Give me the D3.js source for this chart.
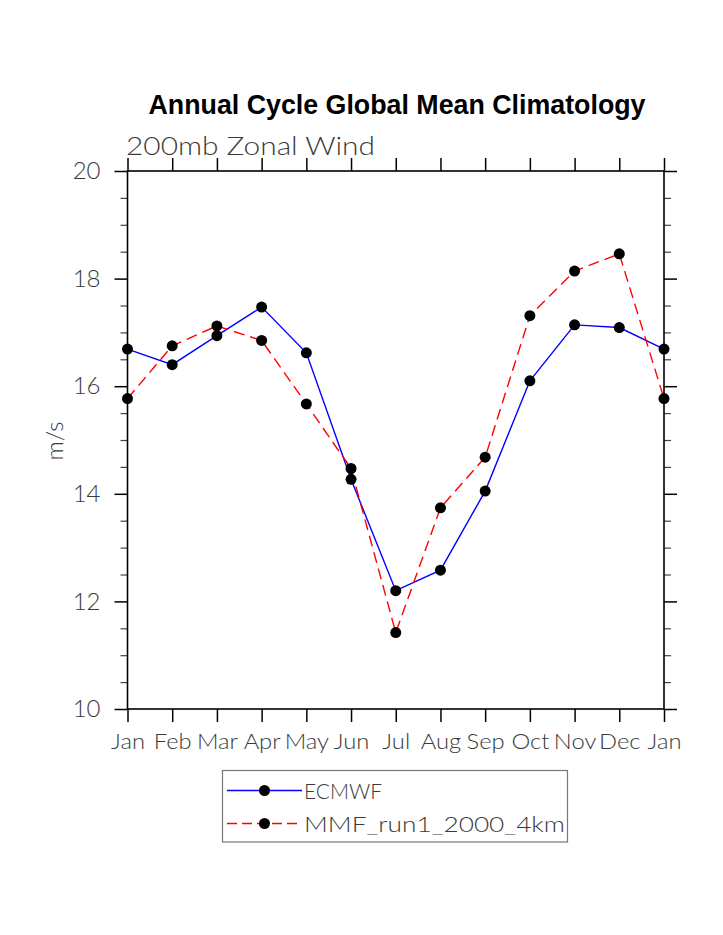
<!DOCTYPE html>
<html>
<head>
<meta charset="utf-8">
<script src="https://cdn.jsdelivr.net/npm/d3@7"></script>
<style>
  html, body { margin: 0; padding: 0; background: #fff; }
  svg { display: block; }
</style>
</head>
<body>
<svg id="chart" width="723" height="935"></svg>
<script>
// ---- data ----
const months = ["Jan","Feb","Mar","Apr","May","Jun","Jul","Aug","Sep","Oct","Nov","Dec","Jan"];
const ecmwf = [16.69, 16.40, 16.94, 17.47, 16.62, 14.27, 12.20, 12.58, 14.05, 16.10, 17.14, 17.09, 16.69];
const mmf   = [15.77, 16.75, 17.12, 16.85, 15.67, 14.47, 11.42, 13.74, 14.68, 17.31, 18.14, 18.46, 15.77];
const yMajorTicks = [10, 12, 14, 16, 18, 20];
const yMinorTicks = [10.5, 11, 11.5, 12.5, 13, 13.5, 14.5, 15, 15.5, 16.5, 17, 17.5, 18.5, 19, 19.5];
const seriesNames = ["ECMWF", "MMF_run1_2000_4km"];
const titleText = "Annual Cycle Global Mean Climatology";
const subtitleText = "200mb Zonal Wind";
const yAxisLabel = "m/s";

// ---- layout ----
const svg = d3.select("#chart");
const L = 127.5, R = 664, T = 171, B = 709;
const x = d3.scaleLinear().domain([0, 12]).range([L, R]);
const y = d3.scaleLinear().domain([10, 20]).range([B, T]);
const textFont = "Lato, 'Liberation Sans', Arial, sans-serif";
const textWeight = 300;
const textFill = "#3a3a3a";

// title
svg.append("text")
  .attr("x", 397).attr("y", 114)
  .attr("text-anchor", "middle")
  .attr("font-family", "'Liberation Sans', Arial, sans-serif")
  .attr("font-weight", "bold")
  .attr("font-size", 27)
  .attr("textLength", 497).attr("lengthAdjust", "spacingAndGlyphs")
  .attr("fill", "#000")
  .text(titleText);

// subtitle
svg.append("text")
  .attr("x", 126).attr("y", 155)
  .attr("font-family", textFont)
  .attr("font-weight", textWeight)
  .attr("font-size", 25)
  .attr("textLength", 249).attr("lengthAdjust", "spacingAndGlyphs")
  .attr("fill", textFill)
  .text(subtitleText);

// axes (d3 axes with outward ticks)
const idx = d3.range(months.length);
const xAxisB = d3.axisBottom(x).tickValues(idx).tickSize(13).tickFormat(i => months[i]).tickPadding(11);
const xAxisT = d3.axisTop(x).tickValues(idx).tickSize(13).tickFormat("");
const yAxisL = d3.axisLeft(y).tickValues(yMajorTicks).tickSize(13).tickFormat(d3.format("d")).tickPadding(14);
const yAxisR = d3.axisRight(y).tickValues(yMajorTicks).tickSize(13).tickFormat("");
const yMinL = d3.axisLeft(y).tickValues(yMinorTicks).tickSize(7).tickFormat("");
const yMinR = d3.axisRight(y).tickValues(yMinorTicks).tickSize(7).tickFormat("");

function styleAxis(g) {
  g.select(".domain").remove();
  g.selectAll(".tick line").attr("stroke", "#000").attr("stroke-width", 1.5);
  g.selectAll(".tick text")
    .attr("font-family", textFont)
    .attr("font-weight", textWeight)
    .attr("fill", textFill);
}

svg.append("g").attr("transform", `translate(0,${B})`).call(xAxisB).call(styleAxis)
  .call(g => g.selectAll(".tick text").attr("font-size", 22)
    .each(function () { const w = this.getComputedTextLength(); d3.select(this).attr("textLength", w * 1.08).attr("lengthAdjust", "spacingAndGlyphs"); }));
svg.append("g").attr("transform", `translate(0,${T})`).call(xAxisT).call(styleAxis);
svg.append("g").attr("transform", `translate(${L},0)`).call(yAxisL).call(styleAxis)
  .call(g => g.selectAll(".tick text").attr("font-size", 24)
    .each(function () { const w = this.getComputedTextLength(); d3.select(this).attr("textLength", w * 1.0).attr("lengthAdjust", "spacingAndGlyphs"); }));
svg.append("g").attr("transform", `translate(${R},0)`).call(yAxisR).call(styleAxis);
svg.append("g").attr("transform", `translate(${L},0)`).call(yMinL).call(styleAxis)
  .call(g => g.selectAll(".tick line").attr("stroke", "#444").attr("stroke-width", 1.2));
svg.append("g").attr("transform", `translate(${R},0)`).call(yMinR).call(styleAxis)
  .call(g => g.selectAll(".tick line").attr("stroke", "#444").attr("stroke-width", 1.2));

// frame
svg.append("rect")
  .attr("x", L).attr("y", T).attr("width", R - L).attr("height", B - T)
  .attr("fill", "none").attr("stroke", "#000").attr("stroke-width", 1.6);

// y label
svg.append("text")
  .attr("transform", `translate(63,441) rotate(-90)`)
  .attr("text-anchor", "middle")
  .attr("font-family", textFont)
  .attr("font-weight", textWeight)
  .attr("font-size", 24)
  .attr("fill", textFill)
  .text(yAxisLabel);

// series
const line = d3.line().x((d, i) => x(i)).y(d => y(d));
const series = [
  { name: seriesNames[0], values: ecmwf, color: "#0000ff", dash: null },
  { name: seriesNames[1], values: mmf, color: "#ff0000", dash: "11,6" }
];
series.forEach(s => {
  svg.append("path")
    .datum(s.values)
    .attr("d", line)
    .attr("fill", "none")
    .attr("stroke", s.color)
    .attr("stroke-width", 1.4)
    .attr("stroke-dasharray", s.dash);
});
series.forEach(s => {
  svg.append("g").selectAll("circle")
    .data(s.values)
    .join("circle")
    .attr("cx", (d, i) => x(i))
    .attr("cy", d => y(d))
    .attr("r", 5.5)
    .attr("fill", "#000");
});

// legend
const lg = svg.append("g");
lg.append("rect")
  .attr("x", 222.5).attr("y", 770.5).attr("width", 345).attr("height", 71.5)
  .attr("fill", "none").attr("stroke", "#777").attr("stroke-width", 1.2);
const legRows = [790.5, 823.5];
const legTextLen = [78, 261];
series.forEach((s, i) => {
  const yy = legRows[i];
  lg.append("line")
    .attr("x1", 227).attr("x2", 302).attr("y1", yy).attr("y2", yy)
    .attr("stroke", s.color).attr("stroke-width", 1.4)
    .attr("stroke-dasharray", s.dash ? "10,5" : null);
  lg.append("circle").attr("cx", 264.5).attr("cy", yy).attr("r", 5.5).attr("fill", "#000");
  lg.append("text")
    .attr("x", 304).attr("y", yy + 8)
    .attr("font-family", textFont)
    .attr("font-weight", textWeight)
    .attr("font-size", 21)
    .attr("textLength", legTextLen[i]).attr("lengthAdjust", "spacingAndGlyphs")
    .attr("fill", textFill)
    .text(s.name);
});
</script>
</body>
</html>
